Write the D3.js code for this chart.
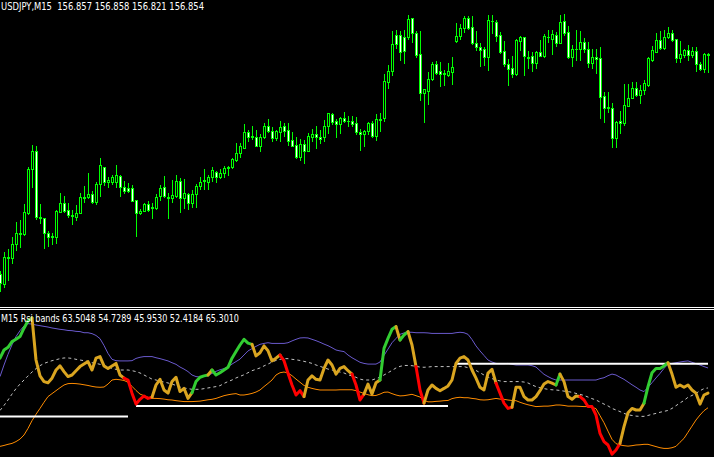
<!DOCTYPE html>
<html><head><meta charset="utf-8">
<script src="https://cdn.jsdelivr.net/npm/d3@7/dist/d3.min.js"></script>
<style>html,body{margin:0;padding:0;background:#000;overflow:hidden}svg{display:block}</style>
</head><body><svg id="chart" width="714" height="457"></svg>
<script>
// ---------- header texts ----------
const symbolLabel = "USDJPY,M15";
const headerValues = ["156.857", "156.858", "156.821", "156.854"];
const indicatorName = "M15 Rsi bands";
const indicatorValues = ["63.5048", "54.7289", "45.9530", "52.4184", "65.3010"];

// ---------- price data (M15 bars), in 0.001 JPY above 156.000 ----------
const priceBase = 156.0;
const openPts = [416,396,448,448,476,496,496,538,626,662,
530,528,498,492,490,540,558,544,534,530,
538,568,570,576,560,596,630,600,600,600,
612,590,588,588,564,538,542,556,548,548,
572,590,570,568,572,602,568,576,558,576,
592,602,600,610,620,610,618,628,630,644,
658,668,700,690,690,672,690,712,702,688,
700,712,704,684,674,650,676,662,690,696,
690,690,712,736,722,716,728,722,722,718,
700,696,702,718,692,726,728,800,822,894,
894,890,890,928,898,856,778,782,806,836,
822,816,814,820,882,892,908,928,910,878,
870,866,850,922,920,894,862,836,828,816,
882,890,850,852,838,860,852,890,886,894,
878,922,900,850,866,866,880,866,838,850,
848,772,750,748,688,722,718,752,768,788,
774,784,794,844,860,884,868,890,898,886,
848,854,864,854,862,836,826,857];
const highPts = [422,460,466,490,520,524,556,630,674,672,
556,528,502,498,544,578,572,558,544,554,
578,592,618,582,600,648,630,610,614,634,
614,602,598,594,564,546,558,562,558,576,
594,612,578,604,614,608,606,578,584,596,
610,626,614,630,622,626,632,632,648,678,
678,716,704,712,704,696,718,726,710,704,
722,718,718,700,690,686,684,698,706,712,
704,724,738,738,726,730,740,732,732,730,
706,704,720,722,736,738,816,834,902,904,
902,904,934,928,902,902,786,820,840,842,
840,824,838,850,918,916,932,932,932,902,
878,870,934,934,924,900,882,846,852,886,
892,890,862,860,862,884,896,904,904,900,
934,936,912,874,904,902,888,880,866,866,
870,780,780,758,722,742,796,796,800,800,
794,804,850,872,898,902,904,910,904,886,
882,866,874,870,870,840,858,858];
const lowPts = [382,390,404,438,464,470,494,536,590,526,
518,468,472,476,478,540,540,530,516,524,
538,560,568,558,556,572,594,590,596,590,
572,578,580,562,492,536,542,542,528,546,
564,570,528,560,570,540,548,546,550,550,
586,586,586,602,600,608,610,614,628,642,
650,668,682,686,672,662,688,700,682,684,
682,692,674,672,648,644,638,662,682,668,
678,682,698,716,690,698,720,712,712,696,
664,672,696,690,684,702,722,788,814,868,
844,838,886,880,850,764,720,756,804,816,
792,794,812,796,880,886,900,906,876,864,
832,834,824,898,882,858,832,794,810,814,
864,814,828,822,828,852,850,880,856,872,
878,894,848,832,844,844,860,830,828,818,
728,720,740,670,670,698,714,752,768,772,
758,776,792,842,860,866,866,888,882,840,
840,850,844,850,822,824,820,821];
const closePts = [398,450,450,476,498,498,540,626,662,530,
528,498,490,490,542,558,542,534,532,538,
570,570,576,560,596,634,600,604,610,614,
590,582,582,562,538,542,556,544,550,570,
588,572,568,574,602,568,578,558,576,592,
600,604,610,624,610,618,628,630,646,658,
672,700,690,692,672,690,712,702,688,702,
710,702,682,672,650,676,662,692,696,690,
686,712,738,720,716,728,722,722,716,700,
696,702,718,692,726,724,802,822,876,876,
860,862,926,898,854,778,786,806,836,818,
816,818,822,830,892,908,928,908,878,870,
864,850,924,922,892,860,836,826,816,884,
890,852,848,838,860,852,892,890,896,878,
920,898,850,866,866,880,866,838,850,846,
770,748,748,688,720,718,754,768,788,774,
784,798,848,864,884,868,890,898,884,848,
856,864,854,862,836,826,856,854];

// ---------- RSI bands indicator ----------
const rsiValues = [67.8,71.4,72.6,75.1,76.1,77.3,81.0,84.3,85.5,67.0,
60.0,57.5,57.0,59.0,62.6,64.4,61.9,59.7,60.4,62.3,
64.1,65.2,66.3,62.6,67.8,68.5,64.4,63.3,64.4,65.5,
60.4,59.0,58.2,52.4,47.6,49.7,51.2,50.1,50.6,56.0,
58.5,53.8,52.4,57.5,59.4,53.1,54.5,50.1,52.6,57.5,
59.4,60.0,60.4,62.6,60.4,61.4,62.6,63.8,67.8,70.7,
73.6,76.1,74.4,73.9,68.8,70.2,73.2,71.1,66.6,67.8,
69.2,66.7,61.2,56.0,51.6,53.5,50.9,58.2,60.0,58.5,
58.2,63.3,67.0,64.8,60.8,63.3,64.1,62.3,60.8,56.0,
49.4,52.0,56.4,52.0,57.0,58.2,72.1,76.5,80.5,81.7,
75.8,78.0,79.5,73.6,64.1,53.8,48.0,53.8,56.0,54.5,
53.5,54.5,55.6,58.2,65.5,67.8,68.5,67.0,62.6,59.0,
55.0,53.8,61.2,62.9,56.8,52.4,48.0,45.7,46.2,55.0,
55.0,50.9,49.4,49.4,50.9,53.5,56.4,57.5,56.8,56.0,
60.8,57.5,50.9,49.7,51.2,50.9,49.4,46.5,46.5,42.8,
34.7,31.1,29.6,25.6,27.4,30.3,37.7,43.8,45.7,45.0,
45.0,48.0,55.3,61.4,63.3,63.3,64.4,65.8,60.8,55.0,
56.0,55.0,56.0,53.8,52.4,47.6,51.6,52.4];
// colour state of the RSI segment ending at each bar: g = above band, o = inside, r = below band
const rsiState = ("g" + "gggggggg" + "ooooooooooooooooooooooo" + "rrrrrrr" + "oooooooooo" +
  "gggg" + "o" + "gggggggggg" + "ooooooo" + "rrrrrr" + "oooooooooooo" + "rrr" + "oooo" +
  "gggg" + "o" + "gg" + "oo" + "rr" + "oooooooooooooooooo" + "rrrr" + "ooooooooooo" + "g" +
  "ooooo" + "rrrrrrrrrr" + "oooooo" + "gggggg" + "oooooooooo").split("");
const upperBand = [59.7,64.8,69.5,73.7,77.3,79.9,82.0,83.0,82.8,82.4,
82.1,81.8,81.5,81.1,80.8,80.5,80.3,80.0,79.9,79.6,
79.5,79.0,79.0,78.6,77.8,76.4,73.4,69.9,67.3,66.7,
66.6,66.6,66.6,66.7,67.7,68.2,68.5,68.5,68.5,68.0,
67.6,67.1,66.6,65.8,65.1,63.9,63.0,61.9,60.4,59.7,
59.5,59.8,60.2,61.1,62.0,62.7,63.2,64.0,65.2,66.3,
67.4,69.2,71.0,72.0,73.0,73.9,74.3,74.6,74.3,74.3,
74.3,74.3,74.6,75.4,76.1,76.7,76.8,76.7,76.1,75.5,
74.8,74.0,73.3,72.4,71.4,71.0,70.7,69.2,68.0,67.0,
66.0,65.5,65.2,65.2,65.2,66.1,69.0,71.8,74.6,76.5,
78.3,78.9,79.2,79.2,79.0,79.0,79.0,78.9,78.7,78.7,
78.7,78.7,78.7,78.7,79.0,79.2,79.0,78.3,76.0,73.2,
71.0,69.0,67.0,66.1,65.5,65.4,65.4,65.5,65.1,64.8,
64.8,64.8,64.8,64.5,63.9,62.3,60.7,59.7,58.8,58.2,
58.2,58.2,58.2,58.2,58.2,58.2,58.2,58.2,58.2,58.2,
58.8,59.2,60.1,60.8,60.4,59.4,58.5,57.3,56.1,55.0,
53.8,53.1,55.0,57.0,59.1,61.1,63.3,65.2,65.5,65.8,
66.1,66.4,66.6,66.0,65.4,64.8,64.1,63.5];
const middleBand = [44.8,47.0,49.4,52.0,54.4,56.4,58.2,60.0,61.7,63.2,
64.5,65.5,66.1,66.7,67.1,67.6,67.9,67.9,67.7,67.3,
67.0,66.7,66.3,65.8,65.5,65.1,64.5,64.1,63.3,62.9,
62.6,62.6,62.6,62.3,61.9,61.3,60.4,59.5,58.6,58.2,
57.7,57.3,56.9,56.4,55.8,55.1,54.7,54.4,54.1,54.1,
54.1,54.4,54.7,55.0,55.3,55.7,56.7,57.5,58.2,59.1,
59.8,60.5,61.4,62.3,62.9,63.5,64.4,65.2,66.1,66.8,
67.3,67.6,67.6,67.3,67.1,66.8,66.4,66.0,65.5,64.8,
64.2,63.6,63.0,62.6,62.2,61.7,61.3,60.5,60.0,59.4,
58.6,58.2,58.2,58.2,58.8,59.4,60.4,61.4,62.4,63.5,
64.2,64.6,64.6,64.5,64.2,63.9,63.8,63.9,64.1,64.1,
64.1,64.1,64.1,64.1,64.1,64.1,64.1,63.6,63.0,62.4,
61.4,60.4,59.5,58.8,58.2,57.8,57.5,57.5,57.5,57.5,
57.5,57.3,56.9,56.0,55.3,54.8,54.4,54.1,53.9,53.8,
53.6,53.3,53.1,52.8,52.3,51.9,51.4,50.7,50.0,49.4,
48.5,47.6,46.8,45.7,45.0,44.3,43.5,42.9,42.6,42.3,
42.2,42.2,42.6,43.1,43.5,44.0,44.4,44.8,45.7,46.9,
48.1,49.2,50.6,51.4,52.3,53.5,54.4,54.7];
const lowerBand = [29.0,29.4,29.9,30.3,31.1,32.2,34.0,36.9,40.3,43.1,
45.7,48.4,50.9,52.2,53.5,54.8,56.0,56.6,56.7,56.6,
56.4,56.1,55.8,55.4,55.1,55.0,55.1,56.4,58.2,58.5,
58.3,58.0,57.2,55.4,53.6,52.0,51.3,50.6,50.1,50.1,
50.0,49.8,49.5,49.4,49.1,48.9,48.7,48.7,48.7,48.8,
48.9,49.2,49.5,49.7,50.1,50.7,51.3,51.7,52.0,52.2,
51.6,51.6,51.9,52.3,52.9,53.8,55.3,56.7,58.2,60.4,
61.4,61.7,61.3,60.1,58.6,57.2,55.8,55.0,54.5,54.1,
53.8,53.8,53.8,53.8,53.8,53.9,53.9,53.9,53.9,53.5,
52.9,52.3,51.7,51.3,51.4,52.0,52.8,52.9,52.2,51.6,
51.2,51.3,51.6,51.9,51.3,50.7,49.2,48.6,48.6,48.8,
48.9,49.1,49.2,50.0,50.4,50.6,50.4,50.4,50.1,49.9,
49.5,49.4,49.5,49.8,50.1,49.8,49.7,49.4,49.2,49.1,
48.4,47.8,47.3,46.9,46.5,46.6,46.7,46.7,46.9,47.2,
47.2,47.0,46.7,46.7,46.7,46.6,46.5,46.5,46.2,45.6,
42.5,39.4,35.7,32.1,30.2,29.6,29.3,29.1,29.3,29.6,
29.7,29.9,29.9,29.4,28.9,28.4,28.1,28.1,28.4,29.0,
30.8,32.5,35.2,37.9,40.6,42.8,44.7,46.0];
// horizontal level segments (bar index ranges)
const levelFrom = [0, 34, 114];
const levelTo = [32, 112, 177];
const levelValue = [42.1, 46.8, 65.3];

// ---------- drawing ----------
const W = 714, H = 457;
const svg = d3.select("#chart");
svg.append("rect").attr("width", W).attr("height", H).attr("fill", "#000");

const n = closePts.length;
const toPrice = p => priceBase + p / 1000;
const bars = d3.range(n).map(i => ({
  i, o: toPrice(openPts[i]), h: toPrice(highPts[i]), l: toPrice(lowPts[i]), c: toPrice(closePts[i])
}));

const x = d3.scaleLinear().domain([0, n - 1]).range([0, 4 * (n - 1)]);
const y = d3.scaleLinear().domain([156.364, 156.964]).range([300, 0]);

const candleG = svg.append("g").attr("shape-rendering", "crispEdges");
const green = "#00ff00";
bars.forEach(b => {
  const cx = Math.round(x(b.i));
  const yh = Math.round(y(b.h)), yl = Math.round(y(b.l));
  candleG.append("rect").attr("x", cx).attr("y", yh).attr("width", 1)
    .attr("height", Math.max(1, yl - yh + 1)).attr("fill", green);
  const yo = Math.round(y(b.o)), yc = Math.round(y(b.c));
  const top = Math.min(yo, yc), bot = Math.max(yo, yc);
  const hgt = bot - top + 1;
  candleG.append("rect").attr("x", cx - 1).attr("y", top).attr("width", 3)
    .attr("height", hgt).attr("fill", green);
  if (hgt > 2) {
    candleG.append("rect").attr("x", cx).attr("y", top + 1).attr("width", 1)
      .attr("height", hgt - 2).attr("fill", b.c < b.o ? "#ffffff" : "#000000");
  }
});

// pane separator
svg.append("rect").attr("x", 0).attr("y", 307).attr("width", W).attr("height", 1).attr("fill", "#fff");
svg.append("rect").attr("x", 0).attr("y", 309).attr("width", W).attr("height", 1).attr("fill", "#fff");

// indicator pane
const ry = d3.scaleLinear().domain([24.32, 89]).range([457, 310]);
svg.append("clipPath").attr("id", "ind").append("rect")
  .attr("x", 0).attr("y", 310).attr("width", W).attr("height", H - 310);
const ind = svg.append("g").attr("clip-path", "url(#ind)");

const lineOf = arr => d3.line().x((d, i) => x(i)).y(d => ry(d))(arr);
ind.append("path").attr("d", lineOf(upperBand)).attr("fill", "none")
  .attr("stroke", "#6A5ACD").attr("stroke-width", 1);
ind.append("path").attr("d", lineOf(lowerBand)).attr("fill", "none")
  .attr("stroke", "#FF8C00").attr("stroke-width", 1);
ind.append("path").attr("d", lineOf(middleBand)).attr("fill", "none")
  .attr("stroke", "#C0C0C0").attr("stroke-width", 1).attr("stroke-dasharray", "3,3");

levelValue.forEach((v, k) => {
  ind.append("line").attr("x1", x(levelFrom[k])).attr("x2", x(levelTo[k]))
    .attr("y1", ry(v)).attr("y2", ry(v)).attr("stroke", "#fff").attr("stroke-width", 2);
});

const stateColor = { g: "#32CD32", o: "#DAA520", r: "#FF0000" };
const runs = [];
for (let i = 1; i < n; i++) {
  const s = rsiState[i];
  const last = runs[runs.length - 1];
  if (last && last.s === s && last.end === i - 1) last.end = i;
  else runs.push({ s, start: i - 1, end: i });
}
const rsiLine = d3.line().x(i => x(i)).y(i => ry(rsiValues[i]));
runs.forEach(r => {
  ind.append("path").attr("d", rsiLine(d3.range(r.start, r.end + 1)))
    .attr("fill", "none").attr("stroke", stateColor[r.s]).attr("stroke-width", 3)
    .attr("stroke-linejoin", "round").attr("stroke-linecap", "round");
});

// texts
svg.append("text").attr("x", 1).attr("y", 10)
  .attr("font-family", "DejaVu Sans, sans-serif").attr("font-size", 10.5)
  .attr("fill", "#fff").style("white-space", "pre")
  .attr("textLength", 203).attr("lengthAdjust", "spacingAndGlyphs")
  .text(symbolLabel + "  " + headerValues.join(" "));
svg.append("text").attr("x", 1).attr("y", 322)
  .attr("font-family", "DejaVu Sans, sans-serif").attr("font-size", 10.5)
  .attr("fill", "#fff").style("white-space", "pre")
  .attr("textLength", 238).attr("lengthAdjust", "spacingAndGlyphs")
  .text(indicatorName + " " + indicatorValues.join(" "));
</script></body></html>
